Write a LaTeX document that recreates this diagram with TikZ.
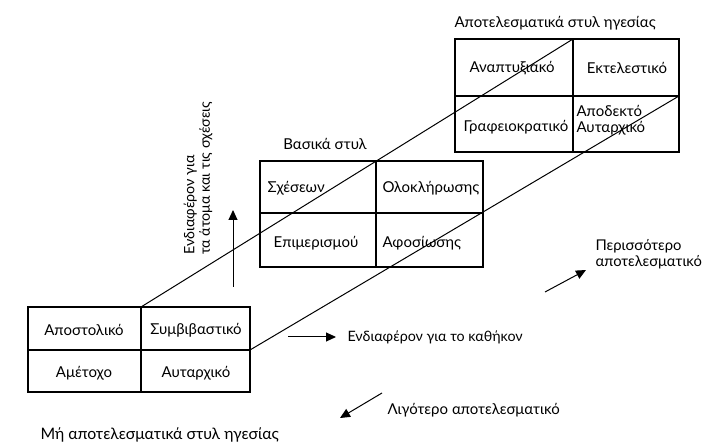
\documentclass[tikz,border=0pt]{standalone}
\usepackage{fontspec}
\setmainfont{Lato}
\usepackage{tikz}
\usetikzlibrary{arrows.meta}

\begin{document}
\begin{tikzpicture}[x=1pt,y=1pt,font=\fontsize{15}{16}\selectfont,
  grid/.style={line width=1.3pt},
  diag/.style={line width=1pt},
  arr/.style={line width=1pt,-{Triangle[length=10pt,width=9pt]}}]
\useasboundingbox (0,0) rectangle (705,444);
% corners of the three grids
\coordinate (b-sw) at (28,52);  \coordinate (b-ne) at (250,137);
\coordinate (b-tm) at (141,137); \coordinate (b-rm) at (250,94);
\coordinate (m-sw) at (260,177); \coordinate (m-ne) at (483,283);
\coordinate (m-tm) at (376,283); \coordinate (m-rm) at (483,231);
\coordinate (t-sw) at (455,292); \coordinate (t-ne) at (679,405);
\coordinate (t-tm) at (573,405); \coordinate (t-rm) at (679,348);

% non effective styles
\draw[grid] (b-sw) rectangle (b-ne);
\draw[grid] (141,52) -- (b-tm);
\draw[grid] (28,94) -- (b-rm);
\node (apost) at (84,114) {Αποστολικό};
\node (symv) at (196,114) {Συμβιβαστικό};
\node (amet) at (84,71) {Αμέτοχο};
\node (autb) at (196,71) {Αυταρχικό};
\node[anchor=west,font=\fontsize{15.8}{17}\selectfont] (mhapot) at (37,9) {Μή αποτελεσματικά στυλ ηγεσίας};

% basic styles
\draw[grid] (m-sw) rectangle (m-ne);
\draw[grid] (376,177) -- (m-tm);
\draw[grid] (260,231) -- (m-rm);
\node (vasika) at (325,300) {Βασικά στυλ};
\node[anchor=west] (sxes) at (264,256) {Σχέσεων};
\node[anchor=west] (olok) at (379,256) {Ολοκλήρωσης};
\node (epim) at (316,201) {Επιμερισμού};
\node[anchor=west] (afos) at (379,201) {Αφοσίωσης};

% effective styles
\draw[grid] (t-sw) rectangle (t-ne);
\draw[grid] (573,292) -- (t-tm);
\draw[grid] (455,348) -- (t-rm);
\node[anchor=west] (apot) at (451,421) {Αποτελεσματικά στυλ ηγεσίας};
\node (anapt) at (512,376) {Αναπτυξιακό};
\node (ektel) at (627,376) {Εκτελεστικό};
\node (graf) at (516,317) {Γραφειοκρατικό};
\node[anchor=west,align=left] (apod) at (573,324) {Αποδεκτό\\Αυταρχικό};

% diagonals
\draw[diag] (b-tm) -- (t-tm);
\draw[diag] (b-rm) -- (t-rm);

% axes
\coordinate (up0) at (233,157); \coordinate (up1) at (233,234);
\draw[arr] (up0) -- (up1);
\node[rotate=90,anchor=west,align=left,font=\fontsize{14.3}{15.5}\selectfont] (atoma) at (198,186) {Ενδιαφέρον για\\τα άτομα και τις σχέσεις};
\coordinate (r0) at (288,107); \coordinate (r1) at (336,107);
\draw[arr] (r0) -- (r1);
\node[anchor=west,font=\fontsize{14.3}{15.5}\selectfont] (kath) at (344,107) {Ενδιαφέρον για το καθήκον};
\coordinate (l0) at (382,51); \coordinate (l1) at (340,26);
\draw[arr] (l0) -- (l1);
\node[anchor=west] (ligot) at (384,34) {Λιγότερο αποτελεσματικό};
\coordinate (p0) at (545,152); \coordinate (p1) at (586,174);
\draw[arr] (p0) -- (p1);
\node[anchor=west,align=left,font=\fontsize{14.8}{16}\selectfont] (periss) at (592,190) {Περισσότερο\\αποτελεσματικό};
\end{tikzpicture}
\end{document}
